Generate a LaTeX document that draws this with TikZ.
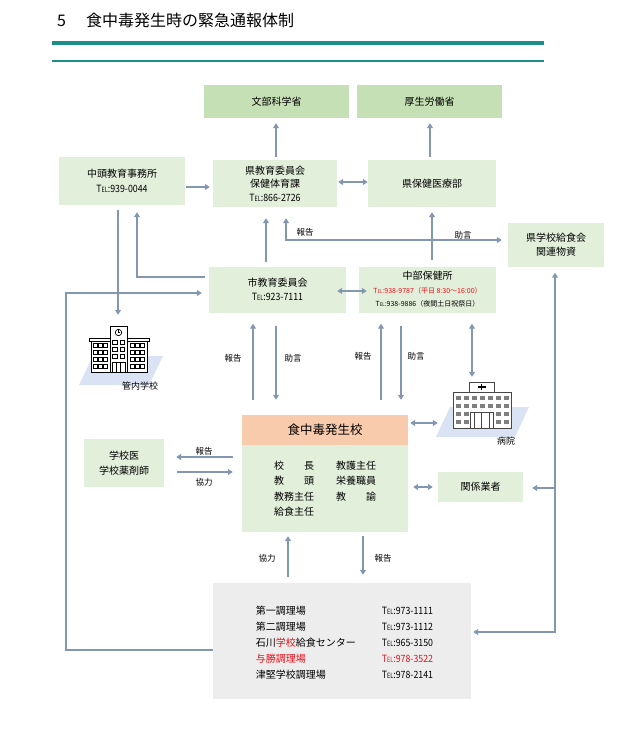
\documentclass[tikz,border=0pt]{standalone}
\usepackage{fontspec}
\setmainfont{Noto Sans CJK JP}
\newfontfamily\narrowfont[FakeStretch=0.88]{Noto Sans CJK JP}
\usetikzlibrary{arrows.meta,calc}
\definecolor{arrc}{HTML}{8497B0}
\definecolor{lg}{HTML}{E2EFDA}
\definecolor{dg}{HTML}{C5E0B4}
\definecolor{salm}{HTML}{F8CBAD}
\definecolor{grayb}{HTML}{EDEDED}
\definecolor{tealc}{HTML}{1B8E89}
\definecolor{redc}{HTML}{E8101A}
\definecolor{parac}{HTML}{DAE3F3}
\definecolor{winc}{HTML}{7F7F7F}
\newcommand\telmark{T\scalebox{0.62}[0.72]{EL}}
\tikzset{
  box/.style={fill=lg, draw=none, inner sep=0pt, align=center, font=\fontsize{10}{13.5}\selectfont},
  topbox/.style={box, fill=dg, minimum width=145pt, minimum height=33pt},
  arr/.style={draw=arrc, line width=1.4pt, -{Triangle[width=6pt,length=5pt]}},
  arr2/.style={draw=arrc, line width=1.4pt, {Triangle[width=6pt,length=5pt]}-{Triangle[width=6pt,length=5pt]}},
  lbl/.style={inner sep=0pt, font=\fontsize{8.5}{10}\selectfont},
  icon/.style={draw=black, fill=white, line width=0.7pt},
  win/.style={draw=black, fill=white, line width=0.45pt},
  hwin/.style={fill=winc, draw=none},
}
\begin{document}
\begin{tikzpicture}[x=1pt,y=-1pt]
\useasboundingbox (0,0) rectangle (641,750);
% title
\node[anchor=west, inner sep=0pt, font=\fontsize{16}{18}\selectfont] (title) at (57,20) {5\hspace{20pt}食中毒発生時の緊急通報体制};
\draw[tealc, line width=4pt] (52,43) -- (544,43);
\draw[tealc, line width=2pt] (52,61) -- (544,61);

% boxes
\node[topbox] (monbu) at (276.5,101.5) {文部科学省};
\node[topbox] (kosei) at (429.5,101.5) {厚生労働省};
\node[box, minimum width=126pt, minimum height=48pt, font=\fontsize{10}{15}\selectfont] (nakagami) at (122,181) {中頭教育事務所\\{\narrowfont\telmark:939-0044}};
\node[box, minimum width=124pt, minimum height=47pt] (kenkyo) at (275,183.5) {県教育委員会\\保健体育課\\{\narrowfont\telmark:866-2726}};
\node[box, minimum width=128pt, minimum height=47pt] (kenho) at (432,183.5) {県保健医療部};
\node[box, minimum width=96pt, minimum height=44pt] (kyushoku) at (556,244.5) {県学校給食会\\関連物資};
\node[box, minimum width=137pt, minimum height=46pt] (shikyo) at (277.5,289.5) {市教育委員会\\{\narrowfont\telmark:923-7111}};
\node[box, minimum width=137pt, minimum height=46pt] (chubu) at (427.5,289.5) {中部保健所\\{\fontsize{7}{9}\selectfont\color{redc}\telmark:938-9787（平日 8:30～16:00）}\\{\fontsize{7}{9}\selectfont\telmark:938-9886（夜間土日祝祭日）}};
\node[box, fill=salm, minimum width=166pt, minimum height=30pt, font=\fontsize{12.5}{14}\selectfont] (hdr) at (325,430) {食中毒発生校};
\node[box, minimum width=166pt, minimum height=87pt, font=\fontsize{10}{15.5}\selectfont, align=left] (body) at (325,488.5) {\makebox[62pt][l]{校　　長}教護主任\\\makebox[62pt][l]{教　　頭}栄養職員\\\makebox[62pt][l]{教務主任}教　　諭\\給食主任};
\node[box, minimum width=80pt, minimum height=48pt, font=\fontsize{10}{15}\selectfont] (gakkoui) at (124,463) {学校医\\学校薬剤師};
\node[box, minimum width=85pt, minimum height=30pt] (gyosha) at (480.5,486.5) {関係業者};
\node[box, fill=grayb, minimum width=258pt, minimum height=116pt] (bottom) at (342,641) {};
\node[inner sep=0pt, font=\fontsize{10}{16}\selectfont, align=left] (list) at (344.5,642.5) {\makebox[126pt][l]{第一調理場}{\narrowfont\telmark:973-1111}\\\makebox[126pt][l]{第二調理場}{\narrowfont\telmark:973-1112}\\\makebox[126pt][l]{石川\textcolor{redc}{学校}給食センター}{\narrowfont\telmark:965-3150}\\{\color{redc}\makebox[126pt][l]{与勝調理場}{\narrowfont\telmark:978-3522}}\\\makebox[126pt][l]{津堅学校調理場}{\narrowfont\telmark:978-2141}};

% school icon
\fill[parac] (79,385) -- (93,356) -- (163,356) -- (149,385) -- cycle;
\draw[icon] (91,341) rectangle (147,372);
\draw[icon] (89,338) rectangle (149,341);
\foreach \xx in {93,98,103,130,135,140}{
  \foreach \yy in {343,350,357,364}{
    \draw[win] (\xx,\yy) rectangle ++(4,4);
  }
}
\draw[icon] (110,326) rectangle (127,372);
\draw[icon] (118.5,332.5) circle (3.2);
\draw[line width=0.5pt] (118.5,330.3) -- (118.5,332.5) -- (120.3,332.5);
\foreach \xx in {112.5,120}{
  \foreach \yy in {340,347,354}{
    \draw[win] (\xx,\yy) rectangle ++(4.5,4);
  }
}
\draw[win] (112,362) rectangle (125,372);
\draw[line width=0.45pt] (116.3,362) -- (116.3,372) (120.7,362) -- (120.7,372);
\node[minimum width=60pt, minimum height=46pt, inner sep=0pt] (school) at (119,349) {};
\node[lbl, font=\fontsize{9}{10}\selectfont] (schoollbl) at (140,386) {管内学校};

% hospital icon
\fill[parac] (436,437) -- (450,407) -- (529,407) -- (515,437) -- cycle;
\draw[draw={rgb,255:red,70;green,70;blue,70}, fill=white, line width=0.8pt] (469,382) rectangle (494,392);
\draw[line width=1.1pt] (477.5,387) -- (485.5,387) (481.5,383.8) -- (481.5,390.2);
\draw[draw={rgb,255:red,70;green,70;blue,70}, fill=white, line width=0.8pt] (453,392) rectangle (511,428);
\foreach \xx in {456,464,472,480,488,496,504}{
  \foreach \yy in {396,404}{
    \fill[winc] (\xx,\yy) rectangle ++(5,4);
  }
}
\foreach \xx in {456,464,496,504}{
  \foreach \yy in {412,420}{
    \fill[winc] (\xx,\yy) rectangle ++(5,4);
  }
}
\draw[draw={rgb,255:red,70;green,70;blue,70}, line width=0.7pt] (470,412) rectangle (493,428);
\draw[draw={rgb,255:red,70;green,70;blue,70}, line width=0.7pt] (474,412) -- (474,428) (481.5,412) -- (481.5,428) (489,412) -- (489,428);
\node[minimum width=58pt, minimum height=46pt, inner sep=0pt] (hospital) at (482,405) {};
\node[lbl, font=\fontsize{9}{10}\selectfont] (hosplbl) at (506,441) {病院};

% guide coordinates
\foreach \v in {66,118,137,253,266,276,286,288,363,381,401,430,432,472,555}{\coordinate (x\v) at (\v,0);}
\foreach \v in {182,187,240,277,291,293,423,457,472,487,488,632,650}{\coordinate (y\v) at (0,\v);}

% connectors
\draw[arr, shorten <=3pt, shorten >=5pt] (kenkyo.north -| x276) -- (monbu.south -| x276);
\draw[arr, shorten <=3pt, shorten >=5pt] (kenho.north -| x430) -- (kosei.south -| x430);
\draw[arr, shorten <=1pt, shorten >=3pt] (nakagami.east |- y187) -- (kenkyo.west |- y187);
\draw[arr2, shorten <=1pt, shorten >=0pt] (kenkyo.east |- y182) -- (kenho.west |- y182);
\draw[arr, shorten <=4pt, shorten >=11pt] (shikyo.north -| x266) -- (kenkyo.south -| x266);
\draw[arr2, shorten <=11pt, shorten >=6pt] (kenkyo.south -| x286) |- (kyushoku.west |- y240);
\draw[arr, shorten <=6pt, shorten >=5pt] (chubu.north -| x432) -- (kenho.south -| x432);
\draw[arr, shorten <=4pt, shorten >=7pt] (shikyo.west |- y277) -| (nakagami.south -| x137);
\draw[arr, shorten <=5pt, shorten >=11pt] (nakagami.south -| x118) -- (school.north -| x118);
\draw[arr, shorten >=7pt] (bottom.west |- y650) -- (x66 |- y650) -- (x66 |- y293) -- (shikyo.west |- y293);
\draw[arr2, shorten <=-9pt, shorten >=-8pt] (shikyo.east |- y291) -- (chubu.west |- y291);
\draw[arr, shorten <=15pt, shorten >=11pt] (hdr.north -| x253) -- (shikyo.south -| x253);
\draw[arr, shorten <=13pt, shorten >=15pt] (shikyo.south -| x276) -- (hdr.north -| x276);
\draw[arr, shorten <=15pt, shorten >=11pt] (hdr.north -| x381) -- (chubu.south -| x381);
\draw[arr, shorten <=13pt, shorten >=15pt] (chubu.south -| x401) -- (hdr.north -| x401);
\draw[arr2, shorten <=11pt, shorten >=5pt] (chubu.south -| x472) -- (hospital.north -| x472);
\draw[arr2, shorten <=2pt, shorten >=15pt] (hdr.east |- y423) -- (hospital.west |- y423);
\draw[arr, shorten <=9pt, shorten >=12pt] (body.west |- y457) -- (gakkoui.east |- y457);
\draw[arr, shorten <=13pt, shorten >=9pt] (gakkoui.east |- y472) -- (body.west |- y472);
\draw[arr2, shorten <=5pt, shorten >=5pt] (body.east |- y487) -- (gyosha.west |- y487);
\draw[arr2, shorten <=6pt, shorten >=2pt] (kyushoku.south -| x555) -- (x555 |- y632) -- (bottom.east |- y632);
\draw[arr, shorten >=9pt] (x555 |- y488) -- (gyosha.east |- y488);
\draw[arr, shorten <=6pt, shorten >=4pt] (bottom.north -| x288) -- (body.south -| x288);
\draw[arr, shorten <=4pt, shorten >=8pt] (body.south -| x363) -- (bottom.north -| x363);

% labels
\node[lbl] (l1) at (305,232) {報告};
\node[lbl] (l2) at (463,235) {助言};
\node[lbl] (l3) at (233,358) {報告};
\node[lbl] (l4) at (293,358) {助言};
\node[lbl] (l5) at (363,356) {報告};
\node[lbl] (l6) at (416,356) {助言};
\node[lbl] (l7) at (204,451) {報告};
\node[lbl] (l8) at (204,482) {協力};
\node[lbl] (l9) at (267,558) {協力};
\node[lbl] (l10) at (383,558) {報告};
\end{tikzpicture}
\end{document}
